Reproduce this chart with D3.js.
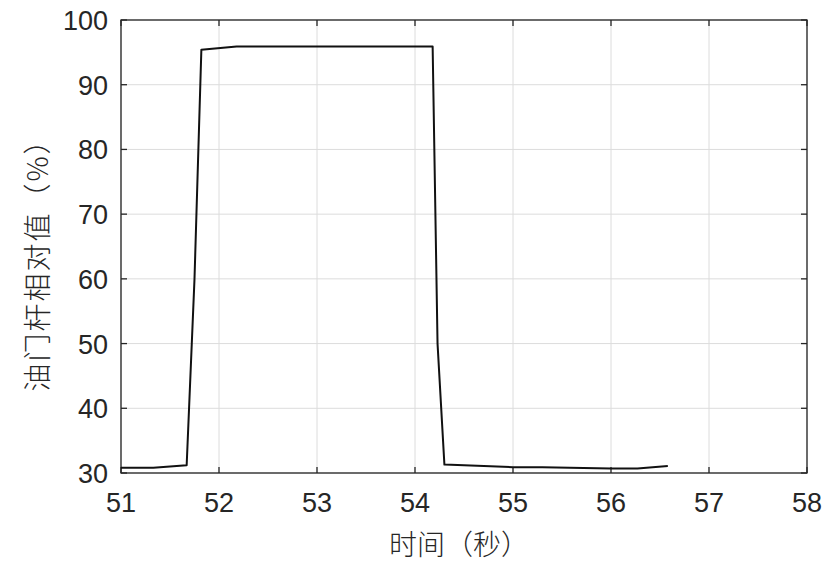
<!DOCTYPE html>
<html>
<head>
<meta charset="utf-8">
<script src="https://cdn.jsdelivr.net/npm/d3@7"></script>
<style>
  body { margin: 0; background: #fff; }
  svg text { fill: #262626; }
</style>
</head>
<body>
<div id="chart"></div>
<script>
// throttle data
var times  = [51.0, 51.33, 51.67, 51.75, 51.82, 52.18, 53.0, 54.0, 54.18, 54.23, 54.3, 55.0, 55.3, 56.0, 56.27, 56.58];
var values = [30.8, 30.8, 31.2, 60.0, 95.4, 95.9, 95.9, 95.9, 95.9, 50.0, 31.3, 30.9, 30.9, 30.7, 30.7, 31.1];

var xTicks = [51, 52, 53, 54, 55, 56, 57, 58];
var yTicks = [30, 40, 50, 60, 70, 80, 90, 100];
var xLabel = "时间（秒）";
var yLabel = "油门杆相对值（%）";

var W = 832, H = 568;
var margin = {left: 121, top: 20, right: 25, bottom: 95};

var svg = d3.select("#chart").append("svg")
    .attr("width", W)
    .attr("height", H);

var x = d3.scaleLinear().domain([51, 58]).range([margin.left, W - margin.right]);
var y = d3.scaleLinear().domain([30, 100]).range([H - margin.bottom, margin.top]);

var x0 = x.range()[0], x1 = x.range()[1];
var y0 = y.range()[0], y1 = y.range()[1];

// grid
var g = svg.append("g");
g.selectAll(".vg").data(xTicks).enter().append("line")
    .attr("x1", function(d){ return x(d); }).attr("x2", function(d){ return x(d); })
    .attr("y1", y1).attr("y2", y0)
    .attr("stroke", "#dcdcdc").attr("stroke-width", 1);
g.selectAll(".hg").data(yTicks).enter().append("line")
    .attr("x1", x0).attr("x2", x1)
    .attr("y1", function(d){ return y(d); }).attr("y2", function(d){ return y(d); })
    .attr("stroke", "#dcdcdc").attr("stroke-width", 1);

// ticks (inward, all four sides)
var tk = 6;
xTicks.forEach(function(d){
    svg.append("line").attr("x1", x(d)).attr("x2", x(d)).attr("y1", y0).attr("y2", y0 - tk)
        .attr("stroke", "#262626").attr("stroke-width", 1.3);
    svg.append("line").attr("x1", x(d)).attr("x2", x(d)).attr("y1", y1).attr("y2", y1 + tk)
        .attr("stroke", "#262626").attr("stroke-width", 1.3);
});
yTicks.forEach(function(d){
    svg.append("line").attr("x1", x0).attr("x2", x0 + tk).attr("y1", y(d)).attr("y2", y(d))
        .attr("stroke", "#262626").attr("stroke-width", 1.3);
    svg.append("line").attr("x1", x1).attr("x2", x1 - tk).attr("y1", y(d)).attr("y2", y(d))
        .attr("stroke", "#262626").attr("stroke-width", 1.3);
});

// box
svg.append("rect")
    .attr("x", x0).attr("y", y1)
    .attr("width", x1 - x0).attr("height", y0 - y1)
    .attr("fill", "none").attr("stroke", "#262626").attr("stroke-width", 1.3);

// tick labels
svg.selectAll(".xt").data(xTicks).enter().append("text")
    .attr("x", function(d){ return x(d); })
    .attr("y", y0 + 39)
    .attr("text-anchor", "middle")
    .attr("font-family", "Liberation Sans, Arial, sans-serif")
    .attr("font-size", 27)
    .text(function(d){ return d; });
svg.selectAll(".yt").data(yTicks).enter().append("text")
    .attr("x", x0 - 13)
    .attr("y", function(d){ return y(d) + 10; })
    .attr("text-anchor", "end")
    .attr("font-family", "Liberation Sans, Arial, sans-serif")
    .attr("font-size", 27)
    .text(function(d){ return d; });

// axis labels
svg.append("text")
    .attr("x", 459)
    .attr("y", 555)
    .attr("text-anchor", "middle")
    .attr("font-family", "Noto Sans CJK SC, sans-serif")
    .attr("font-size", 28)
    .attr("font-weight", 300)
    .text(xLabel);
svg.append("text")
    .attr("transform", "translate(48,258) rotate(-90)")
    .attr("text-anchor", "middle")
    .attr("font-family", "Noto Sans CJK SC, sans-serif")
    .attr("font-size", 28)
    .attr("font-weight", 300)
    .attr("letter-spacing", 2)
    .text(yLabel);

// the line
var line = d3.line()
    .x(function(d, i){ return x(times[i]); })
    .y(function(d){ return y(d); });
svg.append("path")
    .datum(values)
    .attr("d", line)
    .attr("fill", "none")
    .attr("stroke", "#111")
    .attr("stroke-width", 2)
    .attr("stroke-linejoin", "round");
</script>
</body>
</html>
